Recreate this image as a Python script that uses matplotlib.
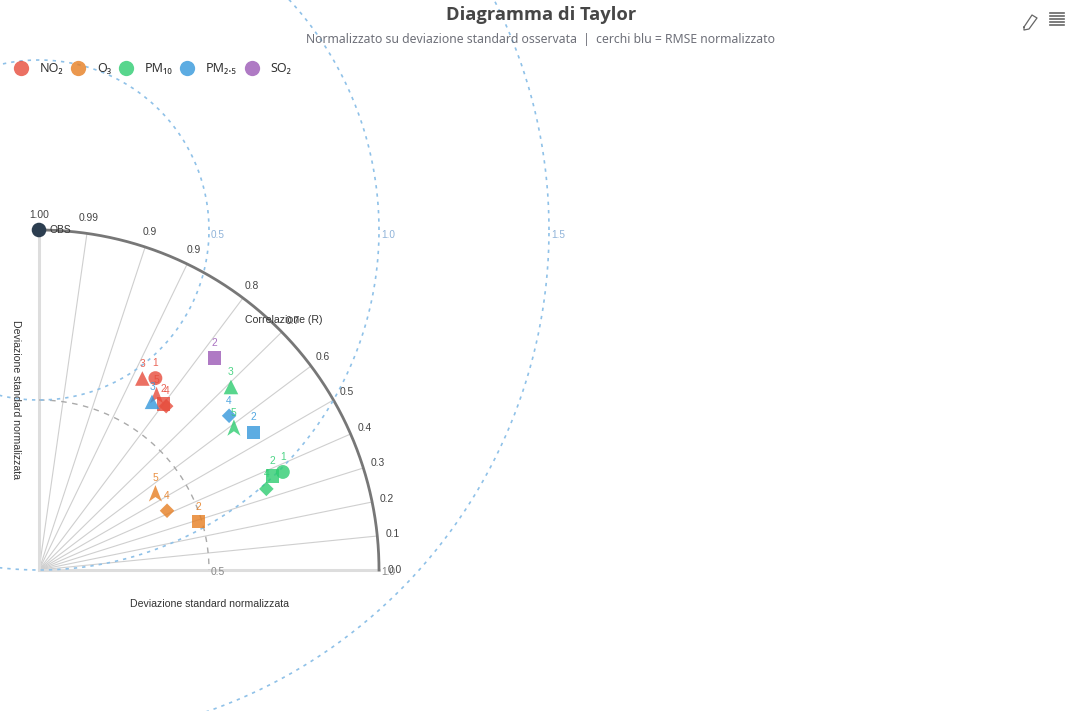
import numpy as np
import matplotlib
matplotlib.use("Agg")
import matplotlib.pyplot as plt
from matplotlib.path import Path
from matplotlib.lines import Line2D

# ---------------- data ----------------
series_names = ["NO₂", "O₃", "PM₁₀", "PM₂.₅", "SO₂"]
series_colors = ["#e74c3c", "#e67e22", "#2ecc71", "#3498db", "#9b59b6"]

# per series: model ids, normalised std, correlation
no2_models = [1, 2, 3, 4, 5]
no2_std = [0.66, 0.61, 0.64, 0.61, 0.62]
no2_corr = [0.855, 0.80, 0.88, 0.79, 0.83]

o3_models = [2, 4, 5]
o3_std = [0.49, 0.415, 0.41]
o3_corr = [0.29, 0.42, 0.55]

pm10_models = [1, 2, 3, 4, 5]
pm10_std = [0.773, 0.74, 0.78, 0.71, 0.71]
pm10_corr = [0.373, 0.374, 0.69, 0.336, 0.59]

pm25_models = [2, 3, 4]
pm25_std = [0.75, 0.596, 0.72]
pm25_corr = [0.54, 0.83, 0.63]

so2_models = [2]
so2_std = [0.81]
so2_corr = [0.77]

obs_std = 1.0
obs_corr = 1.0

corr_ticks = [1.0, 0.99, 0.95, 0.9, 0.8, 0.7, 0.6, 0.5, 0.4, 0.3, 0.2, 0.1, 0.0]
corr_tick_labels = ["1.00", "0.99", "0.9", "0.9", "0.8", "0.7", "0.6", "0.5",
                    "0.4", "0.3", "0.2", "0.1", "0.0"]
rmse_levels = [0.5, 1.0, 1.5]
rmse_labels = ["0.5", "1.0", "1.5"]
std_ticks = [0.5, 1.0]
std_tick_labels = ["0.5", "1.0"]
std_max = 1.0

title = "Diagramma di Taylor"
subtitle = "Normalizzato su deviazione standard osservata  |  cerchi blu = RMSE normalizzato"

# ---------------- layout ----------------
W, H = 1082, 711
OX, OY, S = 39, 570, 340  # origin pixel and pixels per unit

fig = plt.figure(figsize=(W / 100, H / 100), dpi=100)
ax = fig.add_axes([0, 0, 1, 1])
ax.set_xlim(-OX / S, (W - OX) / S)
ax.set_ylim(-(H - OY) / S, OY / S)
ax.axis("off")

FONT = ["Liberation Sans", "DejaVu Sans"]
FONT2 = ["Noto Sans", "DejaVu Sans"]
FONT_T = ["Open Sans", "DejaVu Sans"]

def xy(std, r):
    std = np.asarray(std, float)
    r = np.asarray(r, float)
    return std * np.sqrt(np.clip(1 - r ** 2, 0, 1)), std * r

# radial lines for correlation ticks
for c in corr_ticks[1:-1]:
    x, y = xy(std_max, c)
    ax.plot([0, x], [0, y], color="#cfcfcf", lw=0.8, zorder=1)

# axes lines
ax.plot([0, 0], [0, std_max], color="#dddddd", lw=2.2, zorder=1)
ax.plot([0, std_max], [0, 0], color="#dddddd", lw=2.2, zorder=1)

# outer arc
th = np.linspace(0, np.pi / 2, 300)
ax.plot(std_max * np.sin(th), std_max * np.cos(th), color="#777777", lw=2, zorder=2)

# std reference arc (0.5)
ax.plot(0.5 * np.sin(th), 0.5 * np.cos(th), color="#aaaaaa", lw=1,
        dashes=(4, 4), zorder=2)

# RMSE circles around OBS
ox_, oy_ = xy(obs_std, obs_corr)
tf = np.linspace(0, 2 * np.pi, 800)
for lvl, lab in zip(rmse_levels, rmse_labels):
    ax.plot(ox_ + lvl * np.cos(tf), oy_ + lvl * np.sin(tf), color="#8fc1e8",
            lw=1.2, dashes=(2, 3), zorder=2)
    ax.annotate(lab, (ox_ + lvl, oy_), xytext=(9, -5), textcoords="offset pixels",
                ha="center", va="center", fontsize=7.2, color="#8fb3d9", family=FONT)

# correlation tick labels
for c, lab in zip(corr_ticks, corr_tick_labels):
    x, y = xy(1.045 * std_max, c)
    ax.text(x, y, lab, ha="center", va="center", fontsize=7.4, color="#444444",
            family=FONT, zorder=5)

# std tick labels
for v, lab in zip(std_ticks, std_tick_labels):
    ax.annotate(lab, (v, 0), xytext=(9, -2), textcoords="offset pixels",
                ha="center", va="center", fontsize=7.4, color="#888888", family=FONT)

# axis titles
ax.annotate("Correlazione (R)", xy(std_max, 0.7), xytext=(2, 12),
            textcoords="offset pixels", ha="center", va="center", fontsize=7.6,
            color="#333333", family=FONT)
ax.annotate("Deviazione standard normalizzata", (0.5, 0), xytext=(1, -34),
            textcoords="offset pixels", ha="center", va="center", fontsize=7.6,
            color="#333333", family=FONT)
ax.annotate("Deviazione standard normalizzata", (0, 0.5), xytext=(-23, 0),
            textcoords="offset pixels", ha="center", va="center", fontsize=7.6,
            color="#333333", family=FONT, rotation=270)

# markers
arrow = Path([(0, 1), (0.8, -1), (0, -0.45), (-0.8, -1), (0, 1)],
             [Path.MOVETO, Path.LINETO, Path.LINETO, Path.LINETO, Path.CLOSEPOLY])
model_marker = {1: ("o", 100), 2: ("s", 95), 3: ("^", 110), 4: ("D", 55), 5: (arrow, 140)}

series = [
    (no2_models, no2_std, no2_corr),
    (o3_models, o3_std, o3_corr),
    (pm10_models, pm10_std, pm10_corr),
    (pm25_models, pm25_std, pm25_corr),
    (so2_models, so2_std, so2_corr),
]

z = 6
for (models, stds, corrs), col in zip(series, series_colors):
    xs, ys = xy(stds, corrs)
    for m, x, y in zip(models, xs, ys):
        mk, sz = model_marker[m]
        ax.scatter([x], [y], marker=mk, s=sz, color=col, alpha=0.8,
                   edgecolors="none", zorder=z)
        ax.annotate(str(m), (x, y), xytext=(0, 15), textcoords="offset pixels",
                    ha="center", va="center", fontsize=7.4, color=col,
                    alpha=0.85, family=FONT, zorder=z + 1)
        z += 0.01

# OBS
ax.scatter([ox_], [oy_], s=110, color="#2c3e50", zorder=10, edgecolors="none")
ax.annotate("OBS", (ox_, oy_), xytext=(11, 0), textcoords="offset pixels",
            ha="left", va="center", fontsize=7.4, color="#333333", family=FONT,
            zorder=11)

# titles
fig.text(541 / W, 1 - 15 / H, title, ha="center", va="center", fontsize=13.2,
         fontweight="bold", color="#464646", family=FONT_T)
fig.text(541 / W, 1 - 40 / H, subtitle, ha="center", va="center", fontsize=8.8,
         color="#6e7079", family=FONT2)

# legend
handles = [Line2D([], [], marker="o", linestyle="none", markersize=11,
                  markerfacecolor=c, markeredgecolor="none", alpha=0.8)
           for c in series_colors]
leg = fig.legend(handles, series_names, loc="upper left",
                 bbox_to_anchor=(10 / W, 1 - 57 / H), ncol=5, frameon=False,
                 handlelength=1.0, handletextpad=1.0, columnspacing=0.68,
                 prop={"family": FONT2, "size": 9}, borderaxespad=0)
for t in leg.get_texts():
    t.set_color("#333333")

# toolbox icons (decoration)
ov = fig.add_axes([0, 0, 1, 1], facecolor="none")
ov.set_xlim(0, W)
ov.set_ylim(H, 0)
ov.axis("off")
# pencil
ov.plot([1024, 1032, 1037, 1029, 1024, 1024], [27, 15, 18, 29, 30, 27],
        color="#666666", lw=0.9)
# list icon
for yy in [13, 16, 19, 22, 25]:
    ov.plot([1050, 1064], [yy, yy], color="#666666", lw=1.2)

fig.savefig("out.png", dpi=100)
